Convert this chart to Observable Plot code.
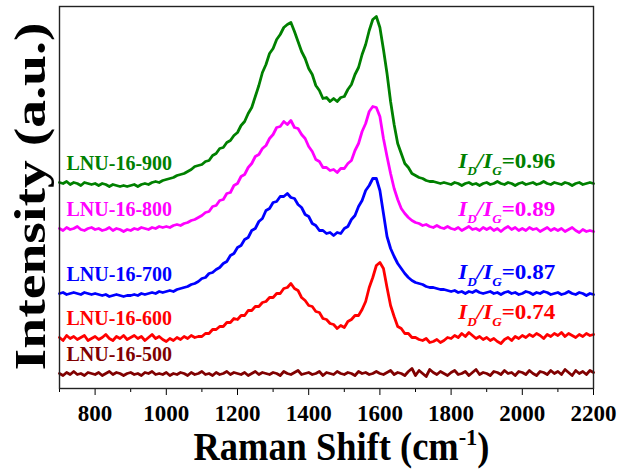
<!DOCTYPE html>
<html><head><meta charset="utf-8">
<script src="https://cdn.jsdelivr.net/npm/d3@7"></script>
<script src="https://cdn.jsdelivr.net/npm/@observablehq/plot@0.6"></script>
<style>body{margin:0;background:#fff;}</style>
</head><body><div id="chart"></div>
<script>
// Raman shift sample grid (cm-1)
const shift = d3.range(700, 2201, 10);

// Intensities (a.u., stacked with offsets as in the figure)
const s900 = [
206,205,207,204,206,205,203,206,205,204,
205,203,205,204,202,204,203,202,203,202,
203,204,202,204,205,204,206,207,206,208,
209,210,211,213,214,215,217,219,222,223,
224,227,228,233,235,240,241,246,248,253,
256,263,267,275,281,292,303,316,324,335,
340,349,354,361,364,366,357,347,337,330,
320,314,303,298,290,291,287,290,287,291,
292,299,304,314,321,334,344,358,369,372,
361,339,315,287,264,245,235,225,221,215,
213,211,210,208,207,207,206,205,206,205,
204,206,205,203,205,206,204,205,203,205,
206,204,205,207,205,204,206,205,203,205,
206,204,205,206,204,205,207,205,204,206,
205,204,206,205,203,205,206,204,205,206,
205];
const s800 = [
160,158,161,159,160,162,159,158,160,161,
159,160,158,159,161,158,160,159,157,159,
158,160,159,161,160,159,161,160,162,161,
162,161,163,164,163,165,166,168,169,171,
173,176,177,182,183,188,189,195,196,203,
205,212,214,221,225,232,234,240,243,250,
254,261,262,267,264,268,261,260,254,250,
242,237,229,227,221,221,218,219,216,220,
220,225,228,238,245,257,265,277,282,281,
272,250,232,215,200,189,180,175,171,168,
166,165,163,164,162,161,163,161,160,162,
160,159,161,158,160,162,159,160,158,161,
159,161,158,160,157,160,162,159,161,158,
160,158,161,159,160,157,159,161,158,160,
158,160,157,159,161,158,156,159,157,158,
157];
const s700 = [
95,96,94,95,96,95,94,96,95,94,
95,94,93,94,92,93,94,93,92,93,
93,94,93,95,94,95,96,95,97,96,
97,98,97,99,100,101,102,104,105,107,
110,111,115,116,119,121,125,127,133,135,
141,143,149,151,158,160,167,170,178,180,
186,187,192,192,195,191,190,184,181,174,
172,165,163,158,158,155,156,153,156,155,
160,162,169,173,182,188,198,203,210,210,
198,175,152,140,132,125,120,115,111,108,
106,105,104,102,101,101,100,99,99,98,
97,98,96,97,95,97,96,98,96,95,
96,97,95,96,94,96,97,95,96,94,
95,97,96,94,96,95,97,96,94,95,
96,94,95,97,95,94,96,95,93,95,
94];
const s600 = [
51,48,53,50,52,49,51,53,48,50,
52,49,51,54,50,48,52,50,53,49,
51,53,50,52,48,51,54,50,52,49,
47,50,48,51,49,52,50,53,51,52,
52,55,55,59,59,62,62,66,66,70,
69,73,73,78,78,82,82,86,87,91,
91,95,95,100,101,105,100,98,91,88,
83,82,77,76,70,69,65,64,60,63,
61,67,69,73,73,79,87,101,111,123,
126,120,101,83,72,62,60,55,55,51,
51,49,48,50,46,47,49,46,48,51,
50,53,51,55,52,56,53,50,52,49,
51,48,50,47,45,49,51,48,52,50,
53,51,54,52,55,53,50,54,52,55,
53,56,52,55,53,51,54,52,55,53,
54];
const s500 = [
15,13,16,14,17,14,15,13,16,15,
14,16,13,15,17,14,16,15,13,15,
16,14,15,13,16,15,17,14,15,14,
16,13,15,14,16,15,13,16,14,15,
17,14,15,13,16,14,15,17,14,16,
15,14,16,13,15,17,14,16,15,14,
16,15,13,17,15,14,16,18,14,15,
16,14,15,17,13,16,15,14,17,15,
14,16,15,13,17,15,16,14,15,17,
15,14,16,18,14,16,15,13,17,20,
13,18,15,12,19,16,14,17,15,13,
16,18,14,15,17,13,16,19,14,16,
15,13,17,16,14,18,15,16,13,17,
16,14,18,15,13,17,16,14,18,15,
17,14,19,16,13,18,15,17,14,18,
16];

const names = ["LNU-16-500", "LNU-16-600", "LNU-16-700", "LNU-16-800", "LNU-16-900"];
const colors = ["#800000", "#ff0000", "#0000ff", "#ff00ff", "#008000"];
const ratios = [null, "0.74", "0.87", "0.89", "0.96"];
const majorTicks = [800, 1000, 1200, 1400, 1600, 1800, 2000, 2200];
const minorTicks = [700, 900, 1100, 1300, 1500, 1700, 1900, 2100];
const xTitle = "Raman Shift (cm-1)";
const yTitle = "Intensity (a.u.)";

const seriesVals = [s500, s600, s700, s800, s900];
const rows = [];
seriesVals.forEach((vals, i) => vals.forEach((v, j) => rows.push({x: shift[j], y: v, name: names[i]})));
const labels = names.map((n, i) => ({name: n, x: shift[0], y: seriesVals[i][0]}));
const ratioRows = names.map((n, i) => ({name: n, x: 1820, y: seriesVals[i][seriesVals[i].length - 1], r: ratios[i]})).filter(d => d.r);

const serif = "'Liberation Serif','Times New Roman',serif";
const plot = Plot.plot({
  width: 625, height: 472,
  marginLeft: 59, marginRight: 32, marginTop: 6, marginBottom: 84,
  style: {fontFamily: serif, fontWeight: "bold", fontSize: "23px", background: "#fff", color: "#000", overflow: "visible"},
  x: {domain: [700, 2200]},
  y: {domain: [0, 382], axis: null},
  color: {domain: names, range: colors},
  marks: [
    Plot.line(rows, {x: "x", y: "y", z: "name", stroke: "name", strokeWidth: 2.8}),
    Plot.text(labels, {x: "x", y: "y", text: "name", fill: "name", textAnchor: "start", dx: 7, dy: -19, fontSize: 20, fontWeight: "bold"}),
    Plot.text(ratioRows, {x: "x", y: "y", text: "r", fill: "name", textAnchor: "start", dy: -22, fontSize: 21, fontWeight: "bold"}),
    Plot.axisX({ticks: minorTicks, tickSize: 4, tickFormat: () => "", label: null}),
    Plot.axisX({ticks: majorTicks, tickSize: 7, tickPadding: 9, label: null, fontSize: 23, tickFormat: d3.format("d")}),
    Plot.text([xTitle], {text: d => d, frameAnchor: "bottom", dx: 15, dy: 71, fontSize: 39, fontWeight: "bold"}),
    Plot.text([yTitle], {text: d => d, frameAnchor: "left", textAnchor: "middle", rotate: -90, dx: -29, dy: -1, fontSize: 44, fontWeight: "bold"}),
    Plot.frame({stroke: "#222", strokeWidth: 1.4})
  ]
});

d3.select(plot).selectAll("text").each(function() {
  const t = d3.select(this);
  const s = t.text();
  if (s === xTitle) {
    t.text(null);
    t.append("tspan").text("Raman Shift (cm");
    t.append("tspan").attr("dy", -15).attr("font-size", 24).text("-1");
    t.append("tspan").attr("dy", 15).text(")");
    t.attr("textLength", 296).attr("lengthAdjust", "spacingAndGlyphs");
  } else if (s === yTitle) {
    t.attr("textLength", 348).attr("lengthAdjust", "spacingAndGlyphs");
  } else if (ratios.includes(s)) {
    t.text(null);
    t.append("tspan").attr("font-style", "italic").text("I");
    t.append("tspan").attr("font-style", "italic").attr("font-size", 12).attr("dy", 7).text("D");
    t.append("tspan").attr("font-style", "italic").attr("dy", -7).text("/I");
    t.append("tspan").attr("font-style", "italic").attr("font-size", 12).attr("dy", 7).text("G");
    t.append("tspan").attr("dy", -7).text("=" + s);
    t.attr("textLength", 97).attr("lengthAdjust", "spacingAndGlyphs");
  }
});

document.getElementById("chart").appendChild(plot);
</script>
</body></html>
